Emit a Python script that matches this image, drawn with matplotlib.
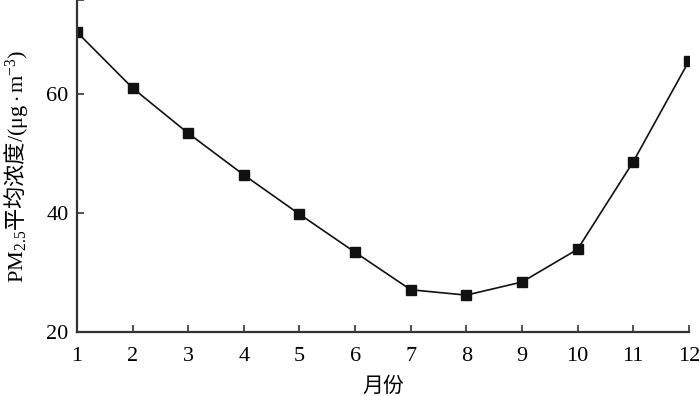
import matplotlib
matplotlib.use("Agg")
import matplotlib.pyplot as plt

plt.rcParams['font.family'] = ['Liberation Serif', 'Noto Sans CJK SC']
plt.rcParams['mathtext.fontset'] = 'custom'
plt.rcParams['mathtext.rm'] = 'Liberation Serif'
plt.rcParams['mathtext.it'] = 'Liberation Serif:italic'

# monthly mean PM2.5 concentration
months = [1, 2, 3, 4, 5, 6, 7, 8, 9, 10, 11, 12]
pm25 = [70.4, 61.0, 53.4, 46.4, 39.8, 33.4, 27.1, 26.2, 28.4, 33.9, 48.6, 65.5]
y_ticks = [20, 40, 60]

fig = plt.figure(figsize=(7, 3.96), dpi=100)
ax = fig.add_axes([0.110, 0.1616, 0.874, 0.8384])

ax.plot(months, pm25, color="#111111", lw=1.2, marker="s", ms=6.5,
        mfc="#111111", mec="#111111")

ax.set_xlim(1, 12)
ax.set_ylim(20, 75.8)
ax.set_xticks(months)
ax.set_yticks(y_ticks)
ax.set_yticks([75.8], minor=True)
ax.tick_params(direction="in", length=5, width=1.2, labelsize=16, color="#333333", pad=6)
ax.tick_params(axis="x", pad=11)
ax.tick_params(which="minor", direction="in", length=5, width=1.2, color="#333333")

for side in ["top", "right"]:
    ax.spines[side].set_visible(False)
for side in ["left", "bottom"]:
    ax.spines[side].set_linewidth(1.6)
    ax.spines[side].set_color("#333333")

ax.set_xlabel("月份", fontsize=15, family="Noto Sans CJK SC", labelpad=6)
ax.set_ylabel(r"$\mathrm{PM}_{2.5}$平均浓度$/(\mathrm{\mu g\cdot m^{-3}})$",
              fontsize=16, family="Noto Sans CJK SC", labelpad=12)

fig.savefig("out.png", dpi=100)
